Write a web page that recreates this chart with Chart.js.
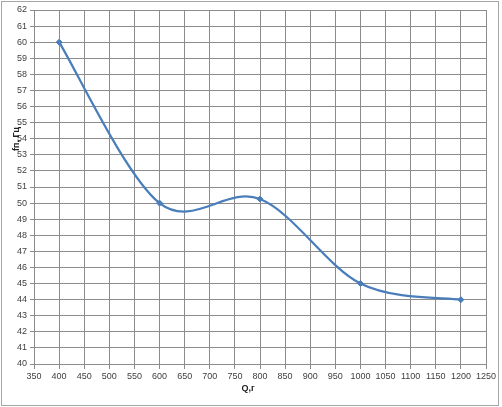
<!DOCTYPE html>
<html>
<head>
<meta charset="utf-8">
<script src="https://cdn.jsdelivr.net/npm/chart.js@4/dist/chart.umd.min.js"></script>
<style>
  html, body { margin: 0; padding: 0; background: #fff; }
  canvas { display: block; }
</style>
</head>
<body>
<canvas id="chart" width="502" height="407"></canvas>
<script>
// data
const qValues = [400, 600, 800, 1000, 1200];
const fValues = [60, 50, 50.25, 45, 44];
const xTitle = 'Q,г';
const yTitle = 'fп, Гц';

const points = qValues.map((q, i) => ({ x: q, y: fValues[i] }));

const gridColor = '#8c8c8c';
const tickFont = { family: 'Liberation Sans', size: 9 };

// frame and axis titles, drawn as text
const decor = {
    id: 'decor',
    beforeDraw(chart) {
        const ctx = chart.ctx;
        ctx.save();
        ctx.fillStyle = '#fff';
        ctx.fillRect(0, 0, chart.width, chart.height);
        ctx.strokeStyle = '#a6a6a6';
        ctx.lineWidth = 1;
        ctx.strokeRect(1.5, 1.5, 497, 404);
        ctx.restore();
    },
    afterDraw(chart) {
        const ctx = chart.ctx;
        ctx.save();
        ctx.fillStyle = '#222';
        ctx.font = 'bold 9px "Liberation Sans"';
        ctx.textAlign = 'center';
        ctx.textBaseline = 'middle';
        ctx.fillText(xTitle, 248, 389);
        ctx.translate(17, 139);
        ctx.rotate(-Math.PI / 2);
        ctx.fillText(yTitle, 0, 0);
        ctx.restore();
    }
};

// Excel-like smoothing: Catmull-Rom control points (1/6 of neighbour span)
const excelSmooth = {
    id: 'excelSmooth',
    beforeDatasetsDraw(chart) {
        chart.data.datasets.forEach((ds, i) => {
            const meta = chart.getDatasetMeta(i);
            meta.dataset.updateControlPoints(chart.chartArea, 'x');
            const pts = meta.data;
            const k = 1 / 6;
            pts.forEach((p, j) => {
                const prev = pts[j - 1] || p;
                const next = pts[j + 1] || p;
                p.cp1x = p.x - k * (next.x - prev.x);
                p.cp1y = p.y - k * (next.y - prev.y);
                p.cp2x = p.x + k * (next.x - prev.x);
                p.cp2y = p.y + k * (next.y - prev.y);
            });
        });
    }
};

new Chart(document.getElementById('chart').getContext('2d'), {
    type: 'scatter',
    data: {
        datasets: [{
            data: points,
            showLine: true,
            borderColor: '#4a7ebb',
            backgroundColor: '#4a7ebb',
            borderWidth: 2.25,
            tension: 0.4,
            pointStyle: 'rectRot',
            pointRadius: 3,
            pointBorderWidth: 1
        }]
    },
    options: {
        responsive: false,
        animation: false,
        layout: { padding: { top: 10, right: 16, left: 0, bottom: 0 } },
        plugins: {
            legend: { display: false },
            tooltip: { enabled: false }
        },
        scales: {
            x: {
                type: 'linear',
                min: 350,
                max: 1250,
                ticks: {
                    stepSize: 50, autoSkip: false, color: '#404040', font: tickFont,
                    maxRotation: 0, padding: 2, callback: v => String(v)
                },
                grid: { color: gridColor, tickLength: 5 },
                border: { color: gridColor },
                afterFit: s => { s.height = 43; }
            },
            y: {
                min: 40,
                max: 62,
                ticks: { stepSize: 1, color: '#404040', font: tickFont, padding: 3 },
                grid: { color: gridColor, tickLength: 4 },
                border: { color: gridColor },
                afterFit: s => { s.width = 34; }
            }
        }
    },
    plugins: [decor, excelSmooth]
});
</script>
</body>
</html>
